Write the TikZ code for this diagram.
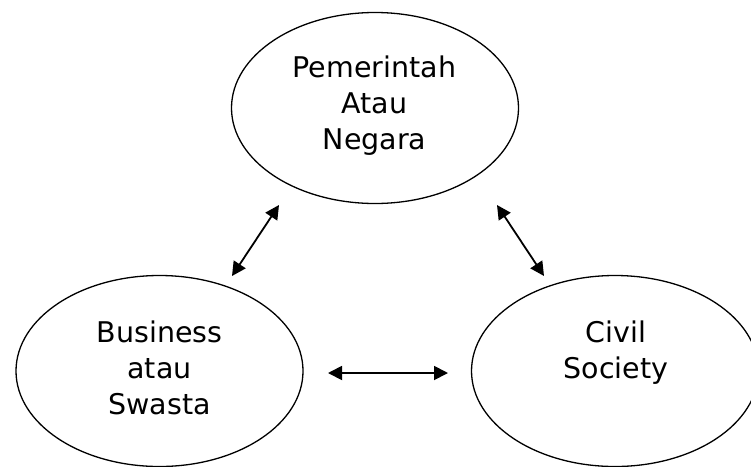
\documentclass[tikz,border=0pt]{standalone}
\usepackage{fontspec}
\setmainfont{DejaVu Sans}
\usetikzlibrary{shapes.geometric,arrows.meta}
\begin{document}
\begin{tikzpicture}[x=1pt,y=-1pt,
  oval/.style={draw=black, line width=1.3pt, ellipse, minimum width=287pt, minimum height=191pt, inner sep=0pt},
  txt/.style={align=center, font=\fontsize{28.5}{36}\selectfont, inner sep=0pt, anchor=base},
  dbl/.style={line width=1.8pt, {Triangle[length=14pt,width=14pt]}-{Triangle[length=14pt,width=14pt]}}]
\clip (0,0) rectangle (751,466);
\fill[white] (0,0) rectangle (751,466);
\node[oval] (top) at (375,108) {};
\node[oval] (left) at (159.5,371) {};
\node[oval] (right) at (615,371) {};
\node[txt] (toptxt) at (374.5,149) {Pemerintah\\Atau\\Negara};
\node[txt] (lefttxt) at (159.5,414) {Business\\atau\\Swasta};
\node[txt] (righttxt) at (616,378) {Civil\\Society};
\coordinate (a1) at (279,205);
\coordinate (a2) at (232,276);
\coordinate (b1) at (497,205);
\coordinate (b2) at (544,276);
\coordinate (c1) at (328,373);
\coordinate (c2) at (448,373);
\draw[dbl] (a1) -- (a2);
\draw[dbl] (b1) -- (b2);
\draw[dbl] (c1) -- (c2);
\end{tikzpicture}
\end{document}
